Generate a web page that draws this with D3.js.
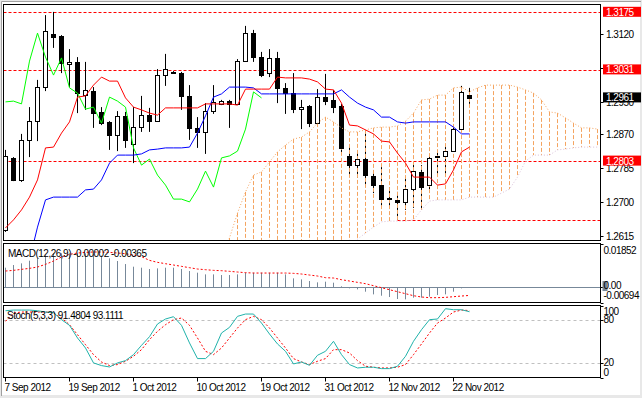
<!DOCTYPE html>
<html>
<head>
<meta charset="utf-8">
<script src="https://cdn.jsdelivr.net/npm/d3@7"></script>
<style>
  body { margin: 0; background: #fff; }
  text { font-family: "Liberation Sans", Arial, sans-serif; font-size: 10px; letter-spacing: -0.5px; }
</style>
</head>
<body>
<script>
// EURUSD daily, Ichimoku + MACD + Stochastic
let dateLabels = ["7 Sep 2012", "19 Sep 2012", "1 Oct 2012", "10 Oct 2012", "19 Oct 2012", "31 Oct 2012", "12 Nov 2012", "22 Nov 2012"];

let open = [1.2631, 1.2811, 1.2756, 1.2856, 1.2903, 1.2988, 1.3121, 1.3116, 1.3046, 1.3051,
  1.2968, 1.2978, 1.2926, 1.2901, 1.2868, 1.2916, 1.2846, 1.2888, 1.2918, 1.2903,
  1.3018, 1.3026, 1.3023, 1.2966, 1.2886, 1.2876, 1.2928, 1.2946, 1.2953, 1.2946,
  1.3053, 1.3123, 1.3063, 1.3023, 1.3061, 1.2986, 1.2973, 1.2933, 1.2941, 1.2898,
  1.2963, 1.2956, 1.2941, 1.2816, 1.2793, 1.2808, 1.2766, 1.2743, 1.2711, 1.2706,
  1.2701, 1.2733, 1.2776, 1.2743, 1.2813, 1.2816, 1.2828, 1.2883, 1.2968];
let high = [1.2831, 1.2813, 1.2871, 1.2938, 1.3006, 1.3168, 1.3176, 1.3118, 1.3083, 1.3063,
  1.3051, 1.2988, 1.2938, 1.2903, 1.2928, 1.2926, 1.2938, 1.2966, 1.2936, 1.3033,
  1.3071, 1.3028, 1.3026, 1.2993, 1.2913, 1.2948, 1.2993, 1.2956, 1.2956, 1.3058,
  1.3141, 1.3131, 1.3076, 1.3083, 1.3076, 1.2998, 1.3023, 1.2956, 1.2943, 1.2983,
  1.3021, 1.2981, 1.2946, 1.2838, 1.2826, 1.2873, 1.2773, 1.2788, 1.2738, 1.2726,
  1.2766, 1.2796, 1.2793, 1.2821, 1.2828, 1.2843, 1.2893, 1.2991, 1.2986];
let low = [1.2626, 1.2753, 1.2751, 1.2813, 1.2853, 1.2978, 1.3086, 1.3023, 1.2988, 1.2923,
  1.2931, 1.2886, 1.2893, 1.2831, 1.2828, 1.2836, 1.2798, 1.2876, 1.2876, 1.2901,
  1.2991, 1.3021, 1.2931, 1.2856, 1.2836, 1.2821, 1.2921, 1.2943, 1.2886, 1.2943,
  1.3051, 1.3051, 1.3013, 1.3013, 1.2948, 1.2921, 1.2923, 1.2883, 1.2888, 1.2893,
  1.2943, 1.2923, 1.2821, 1.2763, 1.2761, 1.2738, 1.2723, 1.2686, 1.2688, 1.2656,
  1.2681, 1.2686, 1.2681, 1.2733, 1.2768, 1.2768, 1.2826, 1.2881, 1.2946];
let close = [1.2816, 1.2756, 1.2856, 1.2903, 1.2988, 1.3128, 1.3113, 1.3048, 1.3051, 1.2973,
  1.2981, 1.2923, 1.2898, 1.2868, 1.2916, 1.2856, 1.2888, 1.2918, 1.2903, 1.3018,
  1.3033, 1.3023, 1.2966, 1.2886, 1.2876, 1.2928, 1.2951, 1.2953, 1.2946, 1.3053,
  1.3123, 1.3063, 1.3018, 1.3061, 1.2986, 1.2973, 1.2933, 1.2938, 1.2898, 1.2963,
  1.2953, 1.2938, 1.2836, 1.2793, 1.2808, 1.2768, 1.2743, 1.2708, 1.2708, 1.2701,
  1.2733, 1.2778, 1.2738, 1.2811, 1.2816, 1.2828, 1.2883, 1.2976, 1.2961];

let tenkan = [1.2636, 1.2656, 1.2681, 1.2713, 1.2756, 1.2836, 1.2838, 1.2873, 1.2901, 1.2963,
  1.2966, 1.2993, 1.3013, 1.3003, 1.3003, 1.2961, 1.2938, 1.2931, 1.2923, 1.2918,
  1.2936, 1.2936, 1.2936, 1.2936, 1.2936, 1.2946, 1.2946, 1.2946, 1.2946, 1.2943,
  1.2983, 1.2983, 1.2983, 1.2983, 1.3013, 1.3011, 1.3011, 1.3011, 1.3008, 1.3001,
  1.2983, 1.2981, 1.2948, 1.2893, 1.2891, 1.2881, 1.2871, 1.2853, 1.2851, 1.2823,
  1.2798, 1.2763, 1.2763, 1.2763, 1.2743, 1.2746, 1.2781, 1.2826, 1.2838];
let kijun = [null, null, null, 1.2556, 1.2638, 1.2706, 1.2713, 1.2713, 1.2713, 1.2713,
  1.2731, 1.2733, 1.2756, 1.2798, 1.2818, 1.2818, 1.2818, 1.2821, 1.2831, 1.2833,
  1.2836, 1.2836, 1.2836, 1.2838, 1.2873, 1.2916, 1.2963, 1.2971, 1.2988, 1.2988,
  1.2988, 1.2986, 1.2971, 1.2971, 1.2971, 1.2971, 1.2971, 1.2971, 1.2971, 1.2971,
  1.2971, 1.2971, 1.2981, 1.2963, 1.2948, 1.2938, 1.2931, 1.2913, 1.2913, 1.2901,
  1.2898, 1.2901, 1.2901, 1.2901, 1.2901, 1.2901, 1.2888, 1.2871, 1.2871];

// senkou spans, first value belongs to bar 27, shifted 26 bars ahead
let cloudStart = 27;
let spanA = [1.2551, 1.2611, 1.2673, 1.2726, 1.2768, 1.2776, 1.2801, 1.2826, 1.2843, 1.2858,
  1.2863, 1.2876, 1.2898, 1.2913, 1.2901, 1.2886, 1.2876, 1.2876, 1.2881, 1.2886,
  1.2888, 1.2888, 1.2891, 1.2903, 1.2923, 1.2956, 1.2958, 1.2968, 1.2968, 1.2986,
  1.2988, 1.2976, 1.2986, 1.2993, 1.2993, 1.2993, 1.2993, 1.2988, 1.2981, 1.2973,
  1.2956, 1.2926, 1.2923, 1.2911, 1.2898, 1.2886, 1.2886, 1.2883];
let spanB = [1.2585, 1.2585, 1.2585, 1.2585, 1.2585, 1.2585, 1.2585, 1.2585, 1.2585, 1.2585,
  1.2585, 1.2585, 1.2585, 1.2585, 1.2585, 1.2585, 1.2595, 1.2608, 1.2623, 1.2638,
  1.2651, 1.2653, 1.2653, 1.2653, 1.2656, 1.2681, 1.2703, 1.2706, 1.2706, 1.2706,
  1.2706, 1.2713, 1.2713, 1.2713, 1.2713, 1.2723, 1.2733, 1.2763, 1.2803, 1.2818,
  1.2818, 1.2818, 1.2831, 1.2833, 1.2836, 1.2838, 1.2838, 1.2838];

let levels = [1.3175, 1.3031, 1.2803];
let supportLevel = 1.2655;
let supportFrom = 49;
let lastPrice = 1.2961;
let priceTicks = [1.3120, 1.3035, 1.2950, 1.2870, 1.2785, 1.2700, 1.2615];

let macdHist = [0.00840, 0.00956, 0.01028, 0.01144, 0.01246, 0.01390, 0.01463, 0.01463, 0.01463, 0.01463,
  0.01463, 0.01434, 0.01361, 0.01246, 0.01130, 0.00999, 0.00883, 0.00840, 0.00782, 0.00811,
  0.00840, 0.00840, 0.00782, 0.00695, 0.00623, 0.00550, 0.00550, 0.00521, 0.00521, 0.00550,
  0.00623, 0.00623, 0.00623, 0.00623, 0.00623, 0.00550, 0.00377, 0.00333, 0.00261, 0.00203,
  0.00232, 0.00188, 0.00030, -0.00058, -0.00101, -0.00203, -0.00319, -0.00377, -0.00434, -0.00521,
  -0.00536, -0.00463, -0.00463, -0.00420, -0.00348, -0.00319, -0.00203, -0.00058, -0.00002];
let macdSignal = [0.00695, 0.00724, 0.00768, 0.00811, 0.00869, 0.00985, 0.01130, 0.01303, 0.01419, 0.01477,
  0.01506, 0.01521, 0.01521, 0.01506, 0.01477, 0.01448, 0.01390, 0.01318, 0.01159, 0.01072,
  0.01014, 0.00956, 0.00898, 0.00840, 0.00782, 0.00753, 0.00724, 0.00710, 0.00681, 0.00652,
  0.00623, 0.00608, 0.00608, 0.00608, 0.00608, 0.00608, 0.00594, 0.00565, 0.00521, 0.00478,
  0.00406, 0.00391, 0.00319, 0.00261, 0.00203, 0.00145, 0.00058, -0.00029, -0.00116, -0.00203,
  -0.00290, -0.00377, -0.00434, -0.00463, -0.00463, -0.00449, -0.00420, -0.00391, -0.00365];
let macdTicks = [0.01852, 0.00, -0.00694];

let stochMain = [92.9, 93.8, 93.8, 93.8, 92.9, 91.1, 90.2, 80.5, 72.6, 55.1,
  41.2, 20.5, 16.8, 14.9, 20.5, 23.7, 32.0, 44.9, 56.9, 74.5,
  81.4, 84.6, 72.6, 48.2, 26.5, 26.5, 36.6, 62.0, 69.8, 85.1,
  88.3, 88.3, 75.8, 60.6, 46.8, 36.6, 19.1, 21.8, 17.2, 31.1,
  36.6, 50.5, 32.0, 18.2, 13.5, 14.5, 14.5, 12.6, 12.6, 15.9,
  29.7, 50.5, 66.6, 80.5, 81.4, 95.7, 94.3, 94.3, 91.4804];
let stochSignal = [78.2, 89.7, 91.1, 91.1, 91.1, 91.1, 89.7, 82.8, 73.5, 59.7,
  45.8, 32.0, 21.8, 16.8, 18.2, 22.8, 29.7, 38.9, 52.8, 64.3,
  73.5, 80.5, 82.8, 72.6, 55.1, 36.6, 32.0, 41.2, 55.1, 68.9,
  80.5, 85.1, 80.5, 68.9, 55.1, 41.2, 26.5, 21.8, 18.2, 22.8,
  26.5, 38.9, 38.9, 34.3, 23.7, 15.9, 14.5, 13.5, 13.5, 14.5,
  18.2, 32.0, 46.8, 62.0, 75.8, 82.8, 91.1, 93.8, 93.1111];
let stochTicks = [100, 80, 20, 0];
let stochLevels = [80, 20];

// chikou span = close moved back 26 bars
let chikou = close.slice(26);

let w = 642, h = 398;
let L = 3.5, R = 600.5;
let main = { top: 4.5, bottom: 240.5 };
let mac = { top: 243.5, bottom: 302.5 };
let sto = { top: 305.5, bottom: 377.5 };

let svg = d3.select("body").append("svg").attr("width", w).attr("height", h);

// window frame
svg.append("rect").attr("width", w).attr("height", h).attr("fill", "#e8e8e8");
svg.append("rect").attr("x", 2).attr("y", 2).attr("width", 638).attr("height", 393).attr("fill", "#fff");
svg.append("path").attr("d", "M1.5,396V1.5H641").attr("fill", "none").attr("stroke", "#a0a0a0");

let x = d3.scaleLinear().domain([0, 74]).range([5.5, 597.5]);
let y = d3.scaleLinear().domain([1.31945, 1.26045]).range([main.top, main.bottom]);
let ym = d3.scaleLinear().domain([-0.00694, 0.01852]).range([303, 244.4]);
let ys = d3.scaleLinear().domain([0, 100]).range([377.7, 305.6]);

function clip(id, p) {
  svg.append("clipPath").attr("id", id).append("rect")
    .attr("x", L).attr("y", p.top).attr("width", R - L).attr("height", p.bottom - p.top);
  return svg.append("g").attr("clip-path", "url(#" + id + ")");
}

// ---------- main panel ----------
let g = clip("cm", main);
let bars = d3.range(close.length);
let cloudBars = d3.range(spanA.length).map(i => i + cloudStart);

// red horizontal levels
g.selectAll(".lvl").data(levels).enter().append("line")
  .attr("x1", L).attr("x2", R)
  .attr("y1", d => Math.round(y(d)) + 0.5).attr("y2", d => Math.round(y(d)) + 0.5)
  .attr("stroke", "#ff0000").attr("stroke-dasharray", "3,2");
g.append("line")
  .attr("x1", x(supportFrom)).attr("x2", R)
  .attr("y1", Math.round(y(supportLevel)) + 0.5).attr("y2", Math.round(y(supportLevel)) + 0.5)
  .attr("stroke", "#ff0000").attr("stroke-dasharray", "3,2");

// wicks
g.selectAll(".wick").data(bars).enter().append("line")
  .attr("x1", i => x(i)).attr("x2", i => x(i))
  .attr("y1", i => y(high[i])).attr("y2", i => y(low[i]))
  .attr("stroke", "#000");

// kumo hatching
g.selectAll(".hatch").data(cloudBars).enter().append("line")
  .attr("x1", i => x(i)).attr("x2", i => x(i))
  .attr("y1", i => y(spanA[i - cloudStart])).attr("y2", i => y(spanB[i - cloudStart]))
  .attr("stroke", i => spanA[i - cloudStart] >= spanB[i - cloudStart] ? "#f4a460" : "#d8bfd8")
  .attr("stroke-dasharray", "4,2");

// bodies
g.selectAll(".body").data(bars).enter().append("rect")
  .attr("x", i => x(i) - 2)
  .attr("y", i => Math.round(y(Math.max(open[i], close[i]))) + 0.5)
  .attr("width", 4)
  .attr("height", i => Math.max(0, Math.round(Math.abs(y(open[i]) - y(close[i])))))
  .attr("fill", i => close[i] >= open[i] ? "#fff" : "#000")
  .attr("stroke", "#000");

// ichimoku lines
let line = d3.line().defined(d => d[1] != null).x(d => x(d[0])).y(d => y(d[1]));
function drawLine(vals, start, color, dash) {
  let pts = vals.map((v, i) => [i + start, v]);
  let p = g.append("path").attr("d", line(pts)).attr("fill", "none")
    .attr("stroke", color).attr("stroke-width", 1);
  if (dash) p.attr("stroke-dasharray", dash);
}
drawLine(spanA, cloudStart, "#f4a460", "1,2");
drawLine(spanB, cloudStart, "#d8bfd8", "1,2");
drawLine(chikou, 0, "#00ff00");
drawLine(kijun, 0, "#0000ff");
drawLine(tenkan, 0, "#ff0000");

// ---------- MACD panel ----------
let gm = clip("cmacd", mac);
gm.append("line").attr("x1", L).attr("x2", R)
  .attr("y1", Math.round(ym(0)) + 0.5).attr("y2", Math.round(ym(0)) + 0.5).attr("stroke", "#778899");
gm.selectAll(".hb").data(bars).enter().append("line")
  .attr("x1", i => x(i)).attr("x2", i => x(i))
  .attr("y1", Math.round(ym(0)) + 0.5).attr("y2", i => ym(macdHist[i]))
  .attr("stroke", "#778899");
gm.append("path")
  .attr("d", d3.line().x((d, i) => x(i)).y(d => ym(d))(macdSignal))
  .attr("fill", "none").attr("stroke", "#ff0000").attr("stroke-dasharray", "2,2");

// ---------- Stochastic panel ----------
let gs = clip("csto", sto);
gs.selectAll(".sl").data(stochLevels).enter().append("line")
  .attr("x1", L).attr("x2", R)
  .attr("y1", d => Math.round(ys(d)) + 0.5).attr("y2", d => Math.round(ys(d)) + 0.5)
  .attr("stroke", "#c0c0c0").attr("stroke-dasharray", "3,3");
gs.append("path")
  .attr("d", d3.line().x((d, i) => x(i)).y(d => ys(d))(stochSignal))
  .attr("fill", "none").attr("stroke", "#ff0000").attr("stroke-dasharray", "2,2");
gs.append("path")
  .attr("d", d3.line().x((d, i) => x(i)).y(d => ys(d))(stochMain))
  .attr("fill", "none").attr("stroke", "#20b2aa");

// ---------- frames ----------
[main, mac, sto].forEach(p => {
  svg.append("rect").attr("x", L).attr("y", p.top).attr("width", R - L).attr("height", p.bottom - p.top)
    .attr("fill", "none").attr("stroke", "#000");
});

// ---------- right axes ----------
let ax = svg.append("g");
ax.selectAll(".pt").data(priceTicks).enter().append("line")
  .attr("x1", R).attr("x2", R + 3)
  .attr("y1", d => Math.round(y(d)) + 0.5).attr("y2", d => Math.round(y(d)) + 0.5).attr("stroke", "#000");
// a grid label sitting right under a level tag is hidden by it
let tagged = levels.concat([lastPrice]);
let shownTicks = priceTicks.filter(d => d3.min(tagged, t => Math.abs(y(t) - y(d))) > 3);
ax.selectAll(".pl").data(shownTicks).enter().append("text")
  .attr("x", 606).attr("y", d => y(d) + 3.5).text(d => d.toFixed(4));

function tag(v, fill) {
  let yy = y(v);
  ax.append("rect").attr("x", 603).attr("y", yy - 5.5).attr("width", 38).attr("height", 10).attr("fill", fill);
  ax.append("text").attr("x", 606).attr("y", yy + 3.5).attr("fill", "#fff").text(v.toFixed(4));
}
levels.forEach(v => tag(v, "#ff0000"));
tag(lastPrice, "#000");

// MACD axis
ax.selectAll(".mt").data(macdTicks).enter().append("line")
  .attr("x1", R).attr("x2", R + 3)
  .attr("y1", d => Math.round(ym(d)) + 0.5).attr("y2", d => Math.round(ym(d)) + 0.5).attr("stroke", "#000");
ax.append("rect").attr("x", 602.5).attr("y", ym(0) - 6).attr("width", 5).attr("height", 10).attr("fill", "#778899");
ax.selectAll(".ml").data(macdTicks).enter().append("text")
  .attr("x", 603.5)
  .attr("y", d => d === macdTicks[0] ? ym(d) + 10 : d === macdTicks[2] ? ym(d) - 4 : ym(d) + 2)
  .text(d => d === 0 ? "0.00" : d.toFixed(5));

// Stochastic axis
ax.selectAll(".st").data(stochTicks).enter().append("line")
  .attr("x1", R).attr("x2", R + 3)
  .attr("y1", d => Math.round(ys(d)) + 0.5).attr("y2", d => Math.round(ys(d)) + 0.5).attr("stroke", "#000");
ax.selectAll(".sl2").data(stochTicks).enter().append("text")
  .attr("x", 603.5)
  .attr("y", d => d === 100 ? ys(d) + 9 : d === 0 ? ys(d) - 2 : ys(d) + 3)
  .text(d => d);

// ---------- date axis ----------
let dateIdx = dateLabels.map((d, i) => i * 8);
ax.selectAll(".dt").data(dateIdx).enter().append("line")
  .attr("x1", i => x(i)).attr("x2", i => x(i))
  .attr("y1", sto.bottom).attr("y2", sto.bottom + 4).attr("stroke", "#000");
ax.selectAll(".dl").data(dateIdx).enter().append("text")
  .attr("x", i => x(i) - 1).attr("y", 391)
  .text((i, k) => dateLabels[k]);

// ---------- indicator captions ----------
svg.append("text").attr("x", 8).attr("y", 257)
  .text("MACD(12,26,9) " + macdHist[macdHist.length - 1].toFixed(5) + " " + macdSignal[macdSignal.length - 1].toFixed(5));
svg.append("text").attr("x", 7).attr("y", 319)
  .text("Stoch(5,3,3) " + stochMain[stochMain.length - 1].toFixed(4) + " " + stochSignal[stochSignal.length - 1].toFixed(4));
</script>
</body>
</html>
